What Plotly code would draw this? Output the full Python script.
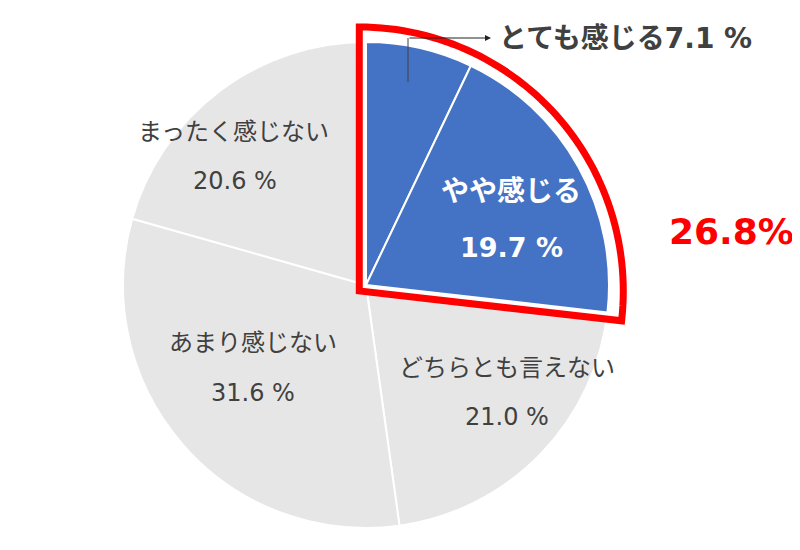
import math
import plotly.graph_objects as go

# Data
labels = ["とても感じる", "やや感じる", "どちらとも言えない", "あまり感じない", "まったく感じない"]
values = [7.1, 19.7, 21.0, 31.6, 20.6]
colors = ["#4472C4", "#4472C4", "#E7E6E6", "#E7E6E6", "#E7E6E6"]
highlight = [True, True, False, False, False]
highlight_total = "26.8%"

# Geometry (screen pixels of the 800x550 window; the page body adds an 8px offset)
W, H = 800, 550
OFF = 8
CX, CY, R = 366, 285, 243          # main pie
FONT = "DejaVu Sans, Noto Sans CJK JP, sans-serif"
GRAY_TXT = "#404040"


def px(x):
    return (x - OFF) / W


def py(y):
    return 1 - (y - OFF) / H


fig = go.Figure()

# base pie
fig.add_trace(go.Pie(
    values=values, labels=labels, sort=False, direction="clockwise", rotation=0,
    marker=dict(colors=colors, line=dict(color="white", width=2)),
    textinfo="none", hoverinfo="skip", showlegend=False,
    domain=dict(x=[px(CX - R), px(CX + R)], y=[py(CY + R), py(CY - R)]),
))

# highlight wedge: angle from data, apex pulled back along the bisector
share = sum(v for v, h in zip(values, highlight) if h)
theta = share / sum(values) * 360
half = math.radians(theta / 2)
d = 9
ax_, ay_ = CX - d * math.sin(half), CY + d * math.cos(half)
R2 = 264

# white fill under the red outline (covers the gray between outline and blue)
rb = 250
fig.add_trace(go.Pie(
    values=[share, 100 - share], sort=False, direction="clockwise", rotation=0,
    marker=dict(colors=["white", "rgba(0,0,0,0)"], line=dict(width=0)),
    textinfo="none", hoverinfo="skip", showlegend=False,
    domain=dict(x=[px(ax_ - rb), px(ax_ + rb)], y=[py(ay_ + rb), py(ay_ - rb)]),
))

# blue slices on top again
fig.add_trace(go.Pie(
    values=values, labels=labels, sort=False, direction="clockwise", rotation=0,
    marker=dict(colors=[c if h else "rgba(0,0,0,0)" for c, h in zip(colors, highlight)],
                line=dict(color=["white" if h else "rgba(0,0,0,0)" for h in highlight],
                          width=[2 if h else 0 for h in highlight])),
    textinfo="none", hoverinfo="skip", showlegend=False,
    domain=dict(x=[px(CX - R), px(CX + R)], y=[py(CY + R), py(CY - R)]),
))

# red outline path
pts = [(ax_, ay_)]
n = 60
for i in range(n + 1):
    a = math.radians(theta * i / n)
    pts.append((ax_ + R2 * math.sin(a), ay_ - R2 * math.cos(a)))
path = "M " + " L ".join(f"{px(x):.5f},{py(y):.5f}" for x, y in pts) + " Z"
fig.add_shape(type="path", path=path, xref="paper", yref="paper",
              line=dict(color="#FF0000", width=7), layer="above")

# leader line for the small slice
fig.add_shape(type="line", xref="paper", yref="paper",
              x0=px(408), y0=py(82), x1=px(408), y1=py(38),
              line=dict(color=GRAY_TXT, width=1))
fig.add_annotation(x=px(491), y=py(38), xref="paper", yref="paper", text="",
                   showarrow=True, ax=-83, ay=0, arrowhead=2, arrowsize=1.2,
                   arrowwidth=1, arrowcolor="#222222")

# labels: (text, x, y, size, color, bold, anchor)
label_pos = [
    (f"{labels[0]}{values[0]:.1f} %", 497, 38, 28, GRAY_TXT, True, "left"),
    (labels[1], 511, 192, 28, "white", True, "center"),
    (f"{values[1]:.1f} %", 511, 248, 27, "white", True, "center"),
    (labels[2], 507, 368, 24, GRAY_TXT, False, "center"),
    (f"{values[2]:.1f} %", 507, 417, 24, GRAY_TXT, False, "center"),
    (labels[3], 253, 343, 24, GRAY_TXT, False, "center"),
    (f"{values[3]:.1f} %", 253, 393, 24, GRAY_TXT, False, "center"),
    (labels[4], 233, 132, 24, GRAY_TXT, False, "center"),
    (f"{values[4]:.1f} %", 235, 181, 24, GRAY_TXT, False, "center"),
    (highlight_total, 731, 231, 36, "#FF0000", True, "center"),
]
for txt, x, y, size, col, bold, anc in label_pos:
    fig.add_annotation(x=px(x), y=py(y), xref="paper", yref="paper",
                       text=f"<b>{txt}</b>" if bold else txt, showarrow=False,
                       xanchor=anc, yanchor="middle",
                       font=dict(family=FONT, size=size, color=col))

fig.update_layout(
    width=W, height=H,
    margin=dict(l=0, r=0, t=0, b=0),
    paper_bgcolor="white", plot_bgcolor="white",
)

fig.write_html("out.html")
